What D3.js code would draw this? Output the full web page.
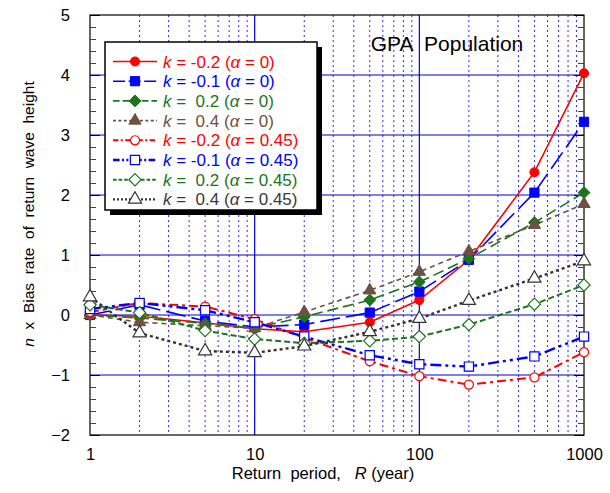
<!DOCTYPE html>
<html><head><meta charset="utf-8">
<script src="https://cdn.jsdelivr.net/npm/d3@7"></script>
<style>body{margin:0;background:#fff}svg{font-family:"Liberation Sans",Arial,sans-serif}</style>
</head><body><svg id="c" width="610" height="493"></svg>
<script>
const periods = [1, 2, 5, 10, 20, 50, 100, 200, 500, 1000];
const kNeg02a0   = [0, -0.02, -0.13, -0.23, -0.28, -0.12, 0.25, 0.92, 2.38, 4.03];
const kNeg01a0   = [0, 0.17, -0.1, -0.2, -0.16, 0.04, 0.39, 0.92, 2.04, 3.22];
const kPos02a0   = [0, -0.05, -0.14, -0.22, -0.03, 0.25, 0.55, 0.94, 1.54, 2.04];
const kPos04a0   = [0, -0.12, -0.18, -0.22, 0.05, 0.41, 0.72, 1.06, 1.5, 1.85];
const kNeg02a45  = [0.05, 0.2, 0.14, -0.07, -0.38, -0.77, -1.02, -1.16, -1.04, -0.62];
const kNeg01a45  = [0.1, 0.2, 0.08, -0.12, -0.36, -0.67, -0.82, -0.86, -0.69, -0.36];
const kPos02a45  = [0.17, 0.04, -0.26, -0.4, -0.47, -0.43, -0.36, -0.16, 0.18, 0.5];
const kPos04a45  = [0.3, -0.3, -0.6, -0.63, -0.52, -0.28, -0.06, 0.24, 0.61, 0.9];
const kLabels = ["-0.2", "-0.1", " 0.2", " 0.4", "-0.2", "-0.1", " 0.2", " 0.4"];
const alphaLabels = ["0", "0", "0", "0", "0.45", "0.45", "0.45", "0.45"];
const xTickLabels = [1, 10, 100, 1000];
const yTickLabels = [-2, -1, 0, 1, 2, 3, 4, 5];

const diamond = {draw(ctx,size){const h=Math.sqrt(size/2);ctx.moveTo(0,-h);ctx.lineTo(h,0);ctx.lineTo(0,h);ctx.lineTo(-h,0);ctx.closePath();}};
const seriesValues = [kNeg02a0, kNeg01a0, kPos02a0, kPos04a0, kNeg02a45, kNeg01a45, kPos02a45, kPos04a45];
const styles = [
  {color:"#ff0000", dash:null, w:1.6, sym:d3.symbolCircle, fill:true, size:65},
  {color:"#0000ff", dash:"20,6", w:1.6, sym:d3.symbolSquare, fill:true, size:85},
  {color:"#1c741c", dash:"11,5", w:1.6, sym:diamond, fill:true, size:70},
  {color:"#6e5044", dash:"5,4", w:1.6, sym:d3.symbolTriangle, fill:true, size:65},
  {color:"#ff0000", dash:"9,4,3,4", w:2, sym:d3.symbolCircle, fill:false, size:65},
  {color:"#0000ff", dash:"11,4,3,4,3,4", w:2.4, sym:d3.symbolSquare, fill:false, size:85},
  {color:"#1c741c", dash:"6,3", w:2, sym:diamond, fill:false, size:75},
  {color:"#333333", dash:"3,3", w:2.4, sym:d3.symbolTriangle, fill:false, size:75}
];
const textColors = ["#ff0000","#0000ff","#1c741c","#6e5044","#ff0000","#0000ff","#1c741c","#3a3a3a"];

const svg = d3.select("#c");
const L=90, R=584, T=15, B=435;
const x = d3.scaleLog().domain([1,1000]).range([L,R]);
const y = d3.scaleLinear().domain([-2,5]).range([B,T]);

const minor = [];
[1,10,100].forEach(d=>{for(let i=2;i<=9;i++) minor.push(d*i);});
svg.append("g").selectAll("line").data(minor).join("line")
  .attr("x1",d=>x(d)).attr("x2",d=>x(d)).attr("y1",T).attr("y2",B)
  .attr("stroke","#2a2aff").attr("stroke-width",1).attr("stroke-dasharray","2,3");
svg.append("g").selectAll("line").data([10,100]).join("line")
  .attr("x1",d=>x(d)).attr("x2",d=>x(d)).attr("y1",T).attr("y2",B)
  .attr("stroke","#0000ee").attr("stroke-width",1.2);
svg.append("g").selectAll("line").data(d3.range(-1,5)).join("line")
  .attr("x1",L).attr("x2",R).attr("y1",d=>y(d)).attr("y2",d=>y(d))
  .attr("stroke","#0000cc").attr("stroke-width",1.2);

svg.append("rect").attr("x",L).attr("y",T).attr("width",R-L).attr("height",B-T)
  .attr("fill","none").attr("stroke","#000").attr("stroke-width",1.2);

const yMinor = d3.range(-2,5.001,0.2).map(v=>+v.toFixed(1));
const gl = svg.append("g").attr("transform",`translate(${L},0)`)
  .call(d3.axisRight(y).tickValues(yMinor).tickSize(6).tickFormat(""));
const gr = svg.append("g").attr("transform",`translate(${R},0)`)
  .call(d3.axisLeft(y).tickValues(yMinor).tickSize(6).tickFormat(""));
[gl,gr].forEach(g=>{g.select(".domain").remove();g.selectAll("line").attr("stroke","#444");});
const gl2 = svg.append("g").attr("transform",`translate(${L},0)`)
  .call(d3.axisRight(y).tickValues(yTickLabels).tickSize(10).tickFormat(""));
gl2.select(".domain").remove(); gl2.selectAll("line").attr("stroke","#000");
const gr2 = svg.append("g").attr("transform",`translate(${R},0)`)
  .call(d3.axisLeft(y).tickValues(yTickLabels).tickSize(10).tickFormat(""));
gr2.select(".domain").remove(); gr2.selectAll("line").attr("stroke","#000");

const ya = svg.append("g").attr("transform",`translate(${L},0)`)
  .call(d3.axisLeft(y).tickValues(yTickLabels).tickSize(0).tickPadding(20).tickFormat(d3.format("d")));
ya.select(".domain").remove();
ya.selectAll("text").attr("font-size",16.5).attr("font-family","Liberation Sans, Arial, sans-serif").attr("fill","#000");

const xa = svg.append("g").attr("transform",`translate(0,${B})`)
  .call(d3.axisBottom(x).tickValues(xTickLabels).tickSize(0).tickPadding(13).tickFormat(d3.format("d")));
xa.select(".domain").remove();
xa.selectAll("text").attr("font-size",16.5).attr("font-family","Liberation Sans, Arial, sans-serif").attr("fill","#000");

const xt = svg.append("text").attr("x",323).attr("y",479).attr("text-anchor","middle")
  .attr("font-size",16.5).style("white-space","pre");
xt.append("tspan").text("Return  period,   ");
xt.append("tspan").attr("font-style","italic").text("R");
xt.append("tspan").text(" (year)");
const yt = svg.append("text").attr("transform","translate(34,214) rotate(-90)")
  .attr("text-anchor","middle").attr("font-size",15.5).style("white-space","pre");
yt.append("tspan").attr("font-style","italic").text("n");
yt.append("tspan").text("  x  Bias  rate  of  return  wave  height");

svg.append("text").attr("x",447).attr("y",51).attr("text-anchor","middle")
  .attr("font-size",21).style("white-space","pre").text("GPA  Population");

const line = d3.line().x(d=>x(d.r)).y(d=>y(d.v));
seriesValues.forEach((vals,i)=>{
  const st = styles[i];
  const pts = periods.map((r,j)=>({r, v:vals[j]}));
  svg.append("path").datum(pts).attr("d",line).attr("fill","none")
    .attr("stroke",st.color).attr("stroke-width",st.w)
    .attr("stroke-dasharray",st.dash);
});
seriesValues.forEach((vals,i)=>{
  const st = styles[i];
  const pts = periods.map((r,j)=>({r, v:vals[j]}));
  svg.append("g").selectAll("path").data(pts).join("path")
    .attr("transform",d=>`translate(${x(d.r)},${y(d.v)})`)
    .attr("d",d3.symbol().type(st.sym).size(st.size))
    .attr("fill",st.fill?st.color:"#fff").attr("stroke",st.color).attr("stroke-width",st.fill?1:1.2);
});

const lx=105, ly=42, lw=212, lh=168;
svg.append("rect").attr("x",lx+5).attr("y",ly+5).attr("width",lw).attr("height",lh).attr("fill","#000");
svg.append("rect").attr("x",lx).attr("y",ly).attr("width",lw).attr("height",lh).attr("fill","#fff").attr("stroke","#000").attr("stroke-width",1.5);
styles.forEach((st,i)=>{
  const yy = 61.5 + i*19.7;
  svg.append("line").attr("x1",113).attr("x2",157).attr("y1",yy).attr("y2",yy)
    .attr("stroke",st.color).attr("stroke-width",st.w).attr("stroke-dasharray",st.dash ? st.dash.split(",").map(v=>Math.max(2,v*0.6)).join(",") : null);
  svg.append("path").attr("transform",`translate(135,${yy})`)
    .attr("d",d3.symbol().type(st.sym).size(st.size))
    .attr("fill",st.fill?st.color:"#fff").attr("stroke",st.color).attr("stroke-width",st.fill?1:1.2);
  const t = svg.append("text").attr("x",163).attr("y",yy+6).attr("font-size",17)
    .attr("fill",textColors[i]).style("white-space","pre");
  t.append("tspan").attr("font-style","italic").text("k");
  t.append("tspan").text(" = " + kLabels[i] + " (");
  t.append("tspan").attr("font-style","italic").text("α");
  t.append("tspan").text(" = " + alphaLabels[i] + ")");
});
</script></body></html>
